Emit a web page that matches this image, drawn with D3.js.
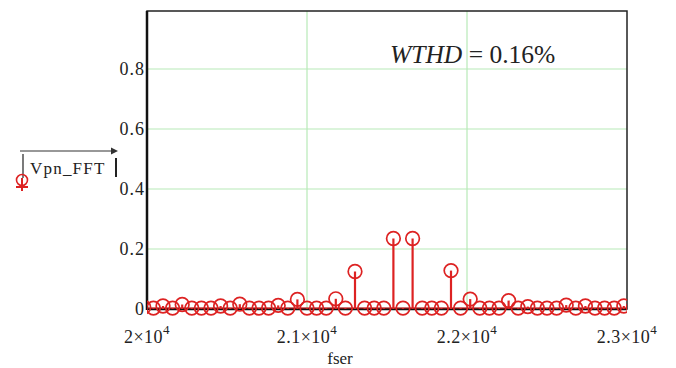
<!DOCTYPE html>
<html><head><meta charset="utf-8">
<script src="https://cdn.jsdelivr.net/npm/d3@7"></script>
<style>body{margin:0;background:#fff}</style>
</head><body><svg id="c" width="676" height="368" font-family="'Liberation Serif','Times New Roman',serif"></svg>
<script>
// harmonic frequencies (Hz)
const freqs = [19980,20040,20100,20160,20220,20280,20340,20400,20460,20520,20580,20640,20700,20760,20820,20880,20940,21000,21060,21120,21180,21240,21300,21360,21420,21480,21540,21600,21660,21720,21780,21840,21900,21960,22020,22080,22140,22200,22260,22320,22380,22440,22500,22560,22620,22680,22740,22800,22860,22920,22980,23040];
// |Vpn_FFT| amplitudes
const amps = [0.006,0.003,0.010,0.003,0.015,0.003,0.003,0.003,0.010,0.003,0.016,0.003,0.003,0.003,0.012,0.003,0.032,0.003,0.003,0.003,0.034,0.003,0.125,0.003,0.003,0.003,0.235,0.003,0.235,0.003,0.003,0.003,0.128,0.003,0.033,0.003,0.003,0.003,0.028,0.003,0.008,0.003,0.003,0.003,0.013,0.003,0.010,0.003,0.003,0.003,0.010,0.006];
const yTicks = [0,0.2,0.4,0.6,0.8];
const xTicks = [20000,21000,22000,23000];
const xTickMant = ["2","2.1","2.2","2.3"];

const svg = d3.select("#c");
const L=147,R=627,T=11,B=309;
const x = d3.scaleLinear().domain([20000,23000]).range([L,R]);
const y = d3.scaleLinear().domain([0,0.9933]).range([B,T]);
const red = "#dd2222";
const ink = "#222";

svg.append("defs").append("clipPath").attr("id","clip")
  .append("rect").attr("x",L).attr("y",T).attr("width",R-L).attr("height",B-T+8);

// grid
const grid = svg.append("g").attr("stroke","#b8eab8").attr("stroke-width",1.2);
yTicks.filter(d=>d>0).forEach(d=>grid.append("line").attr("x1",L).attr("x2",R).attr("y1",y(d)).attr("y2",y(d)));
xTicks.slice(1,3).forEach(d=>grid.append("line").attr("y1",T).attr("y2",B).attr("x1",x(d)).attr("x2",x(d)));

// box
svg.append("rect").attr("x",L).attr("y",T).attr("width",R-L).attr("height",B-T)
  .attr("fill","none").attr("stroke",ink).attr("stroke-width",1.5);
svg.append("line").attr("x1",L).attr("x2",L).attr("y1",T).attr("y2",B+1).attr("stroke","#111").attr("stroke-width",2.5);
svg.append("line").attr("x1",L).attr("x2",R).attr("y1",B).attr("y2",B).attr("stroke","#111").attr("stroke-width",2.5);

// stems and markers
const g = svg.append("g").attr("clip-path","url(#clip)");
const data = freqs.map((f,i)=>({f,a:amps[i]}));
g.selectAll("line.s").data(data).join("line").attr("class","s")
  .attr("x1",d=>x(d.f)).attr("x2",d=>x(d.f)).attr("y1",y(0)).attr("y2",d=>y(d.a))
  .attr("stroke",red).attr("stroke-width",2.2);
g.append("line").attr("x1",L).attr("x2",R).attr("y1",B-1).attr("y2",B-1).attr("stroke",red).attr("stroke-width",1);
g.selectAll("circle").data(data).join("circle")
  .attr("cx",d=>x(d.f)).attr("cy",d=>y(d.a)).attr("r",6.8)
  .attr("fill","none").attr("stroke",red).attr("stroke-width",1.7);

// y tick labels
svg.selectAll("text.yt").data(yTicks).join("text").attr("class","yt")
  .attr("x",L-2).attr("y",d=>y(d)+6).attr("text-anchor","end").attr("fill",ink)
  .attr("font-size",18).attr("letter-spacing",1).text(d=>d===0?"0":d.toFixed(1));

// x tick labels
xTicks.forEach((d,i)=>{
  const t = svg.append("text").attr("x",x(d)).attr("y",343).attr("text-anchor","middle").attr("font-size",18).attr("fill",ink).attr("letter-spacing",0.5);
  t.append("tspan").text(xTickMant[i]+"×10");
  t.append("tspan").attr("dy",-9).attr("font-size",13).text("4");
});
svg.append("text").attr("x",340).attr("y",364).attr("text-anchor","middle").attr("font-size",17).attr("fill",ink).text("fser");

// y label
svg.append("text").attr("x",30).attr("y",174).attr("font-size",17).attr("letter-spacing",1.2).attr("fill",ink).text("Vpn_FFT");
svg.append("line").attr("x1",23).attr("x2",23).attr("y1",154).attr("y2",178).attr("stroke",ink).attr("stroke-width",1.2);
svg.append("line").attr("x1",116).attr("x2",116).attr("y1",158).attr("y2",177).attr("stroke",ink).attr("stroke-width",2);
svg.append("line").attr("x1",20).attr("x2",116).attr("y1",151).attr("y2",151).attr("stroke","#333").attr("stroke-width",1.2);
svg.append("path").attr("d","M118,151 L111,147.5 L111,154.5 Z").attr("fill","#333");
// legend marker
svg.append("circle").attr("cx",22).attr("cy",180).attr("r",5.5).attr("fill","none").attr("stroke",red).attr("stroke-width",1.6);
svg.append("line").attr("x1",22).attr("x2",22).attr("y1",178).attr("y2",191).attr("stroke",red).attr("stroke-width",2);
svg.append("line").attr("x1",16).attr("x2",28).attr("y1",187).attr("y2",187).attr("stroke",red).attr("stroke-width",2);

// annotation
const ann = svg.append("text").attr("x",390).attr("y",63).attr("font-size",25.5).attr("fill",ink);
ann.append("tspan").attr("font-style","italic").text("WTHD");
ann.append("tspan").text(" = 0.16%");
</script></body></html>
